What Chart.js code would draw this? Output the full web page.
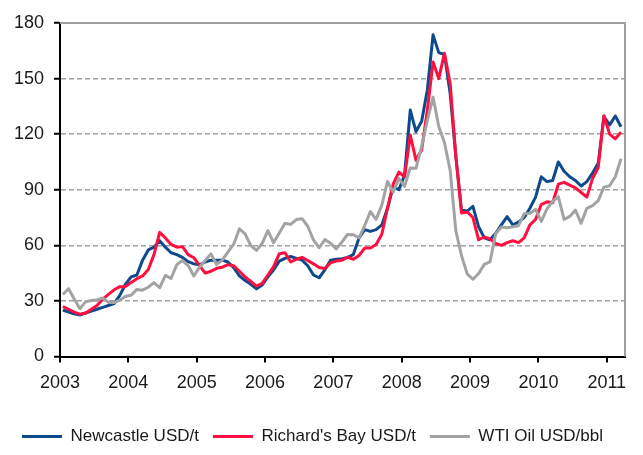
<!DOCTYPE html>
<html>
<head>
<meta charset="utf-8">
<script src="https://cdn.jsdelivr.net/npm/chart.js@4.4.1/dist/chart.umd.min.js"></script>
<style>
  html, body { margin: 0; padding: 0; background: #ffffff; }
  #wrap { width: 643px; height: 455px; }
</style>
</head>
<body>
<div id="wrap"><canvas id="chart" width="643" height="455"></canvas></div>
<script>
// Year tick labels, one every 12 months starting Jan 2003
const YEARS = ['2003', '2004', '2005', '2006', '2007', '2008', '2009', '2010', '2011'];

// Monthly values, Jan 2003 .. Mar 2011
const NEWCASTLE = [
    25, 24, 23, 22.4, 23.5, 24.5, 25.5, 26.5, 27.5, 28.5, 33, 39,
    43, 44, 52, 57.5, 59, 62.5, 59, 56, 55, 53.5, 51.2, 50,
    49.5, 51, 52, 52, 52, 51, 48, 43.5, 41, 39, 36.5, 38.6,
    43, 46.7, 51.5, 53, 54, 53, 52, 49, 44, 42.5, 46.7, 52,
    52.5, 52.8, 53.5, 55, 64, 68.5, 67.5, 68.5, 71, 80, 91.7, 90,
    98, 133, 121.4, 127, 144, 173.6, 164, 163, 142, 108, 79, 78.5,
    81, 70, 64, 63, 66.5, 71, 75.5, 71, 72.5, 75, 80, 86,
    97, 94.4, 95, 105, 100, 97, 95, 92, 94.4, 99, 104.3, 129.5,
    125, 129.8, 124,
];

const RICHARDS_BAY = [
    27, 25.5, 24, 22.8, 23.5, 25.5, 27.5, 31, 33.5, 36, 37.7, 37.7,
    40, 42, 43.5, 47, 55, 67, 64, 60.5, 59, 59.3, 55, 53.3,
    49, 45, 46, 47.6, 48.2, 49.6, 49, 46, 43, 40.5, 38, 39.5,
    44, 48.5, 55.5, 56, 51, 52.5, 53.5, 51.8, 50, 48, 47.5, 50.5,
    51.5, 52, 53.5, 52.5, 54.5, 58.5, 58.6, 60.5, 66, 80, 93, 99.5,
    97, 119.5, 106, 111.5, 133, 159, 150, 163.7, 147.5, 108, 77.5, 78,
    75, 63, 64.5, 63.5, 61, 60, 61.5, 62.5, 61.5, 64, 71, 74,
    82, 83.5, 83, 93, 94, 92.5, 91, 88.5, 86, 96, 102, 130,
    120, 117.5, 121,
];

const WTI = [
    33.5, 36.6, 31.0, 25.8, 29.6, 30.2, 30.5, 31.6, 29.2, 29.1, 30.4, 32.5,
    33.1, 36.2, 35.8, 37.4, 39.9, 37.1, 43.8, 42.1, 49.6, 51.8, 49.1, 43.5,
    48.2, 51.8, 55.4, 49.7, 52.0, 56.5, 60.6, 68.9, 66.2, 59.8, 57.3, 61.0,
    67.9, 61.4, 66.6, 71.9, 71.3, 73.9, 74.4, 70.3, 62.9, 58.7, 63.1, 61.1,
    58.1, 61.8, 65.9, 65.7, 64.0, 70.7, 78.2, 74.0, 81.7, 94.5, 88.7, 96.0,
    91.8, 101.8, 101.6, 113.5, 127.4, 140.0, 124.1, 115.5, 100.6, 67.8, 54.4, 44.6,
    41.7, 44.8, 49.7, 51.1, 66.3, 69.9, 69.5, 70.0, 70.6, 77.0, 77.3, 79.4,
    72.9, 79.7, 83.8, 86.2, 74.0, 75.6, 79.0, 71.9, 80.0, 81.4, 84.1, 91.4,
    92.2, 97.0, 106.7,
];

const SERIES_NAMES = ['Newcastle USD/t', "Richard's Bay USD/t", 'WTI Oil USD/bbl'];

const COLORS = {
    newcastle: '#0d4a8c',
    richardsBay: '#ff0f3f',
    wti: '#a3a3a3',
    grid: '#a0a0a0',
    axis: '#000000',
    text: '#1a1a1a',
};

Chart.defaults.font.family = "'Liberation Sans', Arial, sans-serif";
Chart.defaults.color = COLORS.text;

// month i is plotted at the middle of that month
const toPoints = arr => arr.map((v, i) => ({ x: i + 0.5, y: v }));

// gray top and right frame of the plot area
const frame = {
    id: 'frame',
    beforeDatasetsDraw(chart) {
        const { ctx, chartArea: a } = chart;
        ctx.save();
        ctx.strokeStyle = COLORS.grid;
        ctx.lineWidth = 2;
        ctx.beginPath();
        ctx.moveTo(a.left, a.top);
        ctx.lineTo(a.right, a.top);
        ctx.lineTo(a.right, a.bottom);
        ctx.stroke();
        ctx.restore();
    },
};

function lineSet(label, data, color, order) {
    return {
        label,
        data: toPoints(data),
        borderColor: color,
        backgroundColor: color,
        borderWidth: 3,
        pointRadius: 0,
        tension: 0,
        fill: false,
        borderJoinStyle: 'round',
        order,
    };
}

new Chart(document.getElementById('chart'), {
    type: 'line',
    data: {
        datasets: [
            lineSet(SERIES_NAMES[0], NEWCASTLE, COLORS.newcastle, 3),
            lineSet(SERIES_NAMES[1], RICHARDS_BAY, COLORS.richardsBay, 2),
            lineSet(SERIES_NAMES[2], WTI, COLORS.wti, 1),
        ],
    },
    plugins: [frame],
    options: {
        responsive: false,
        animation: false,
        layout: { padding: { left: 0, right: 18, top: 23, bottom: 0 } },
        plugins: {
            tooltip: { enabled: false },
            legend: {
                position: 'bottom',
                labels: {
                    usePointStyle: true,
                    pointStyle: 'line',
                    pointStyleWidth: 40,
                    padding: 14,
                    font: { size: 17 },
                    color: COLORS.text,
                    sort: (a, b) => a.datasetIndex - b.datasetIndex,
                },
            },
        },
        scales: {
            x: {
                type: 'linear',
                min: 0,
                max: 99.2,
                afterBuildTicks: s => { s.ticks = YEARS.map((_, i) => ({ value: i * 12 })); },
                afterFit: s => { s.height = 57.5; },
                ticks: {
                    autoSkip: false,
                    maxRotation: 0,
                    padding: 10,
                    font: { size: 18 },
                    color: COLORS.text,
                    callback: (v, i) => YEARS[i],
                },
                grid: {
                    drawOnChartArea: false,
                    drawTicks: true,
                    tickLength: 6,
                    color: COLORS.axis,
                    tickColor: COLORS.axis,
                    lineWidth: 2,
                },
                border: { display: true, color: COLORS.axis, width: 2 },
            },
            y: {
                min: 0,
                max: 180,
                afterFit: s => { s.width = 60; },
                ticks: {
                    stepSize: 30,
                    padding: 10,
                    font: { size: 18 },
                    color: COLORS.text,
                },
                grid: {
                    color: c => (c.tick && (c.tick.value === 0 || c.tick.value === 180)) ? 'rgba(0,0,0,0)' : COLORS.grid,
                    lineWidth: 1.5,
                    tickColor: COLORS.axis,
                    tickLength: 6,
                    tickBorderDash: [],
                    tickWidth: 2,
                },
                border: { display: true, color: COLORS.axis, width: 2, dash: [5, 3] },
            },
        },
    },
});
</script>
</body>
</html>
